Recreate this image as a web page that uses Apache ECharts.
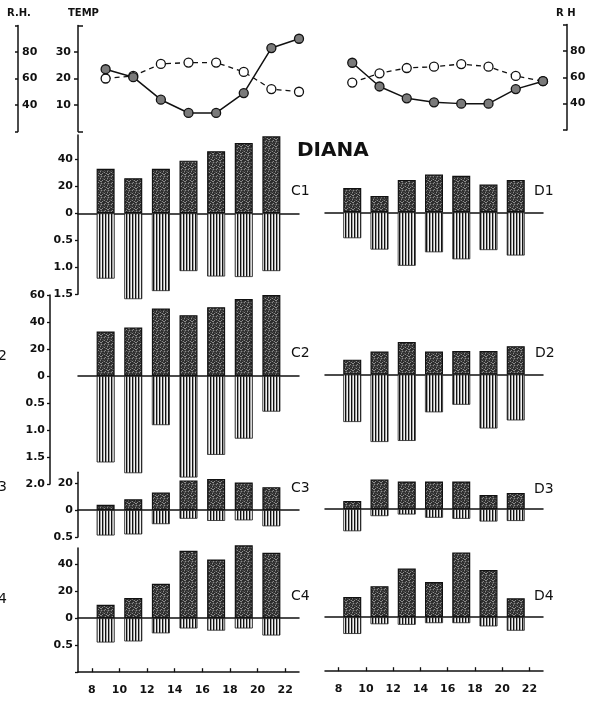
<!DOCTYPE html>
<html>
<head>
<meta charset="utf-8">
<script src="https://cdn.jsdelivr.net/npm/echarts@6/dist/echarts.min.js"></script>
<style>html,body{margin:0;padding:0;background:#fff}#main{width:598px;height:704px}</style>
</head>
<body>
<div id="main"></div>
<script>
// hours of the day
var barHours = [9, 11, 13, 15, 17, 19, 21];
var climateHours = [9, 11, 13, 15, 17, 19, 21, 23];
var hourTicks = [8, 10, 12, 14, 16, 18, 20, 22];

// top panels: relative humidity (solid, filled) and temperature (dashed, open)
var rhC = [67, 61, 44, 34, 34, 49, 83, 90];
var tempC = [20, 21, 25.5, 26, 26, 22.5, 16, 15];
var rhD = [71, 53, 44, 41, 40, 40, 51, 57];
var tempD = [18, 21.5, 23.5, 24, 25, 24, 20.5, 18.5];

// bars: count above the line, second measure below the line
var c1Up = [33, 26, 33, 39, 46, 52, 57];
var c1Down = [1.21, 1.59, 1.44, 1.07, 1.17, 1.18, 1.07];
var c2Up = [33, 36, 50, 45, 51, 57, 60];
var c2Down = [1.6, 1.8, 0.91, 1.88, 1.46, 1.16, 0.66];
var c3Up = [4, 8, 13, 22, 23, 20.5, 17];
var c3Down = [0.47, 0.45, 0.26, 0.16, 0.2, 0.19, 0.3];
var c4Up = [10, 15, 25.5, 50, 43.5, 54, 48.5];
var c4Down = [0.45, 0.43, 0.28, 0.19, 0.23, 0.19, 0.32];

var d1Up = [18, 12, 24, 28, 27, 20.5, 24];
var d1Down = [0.48, 0.69, 0.99, 0.74, 0.87, 0.7, 0.8];
var d2Up = [11, 17, 24, 17, 17.5, 17.5, 21];
var d2Down = [0.88, 1.25, 1.23, 0.7, 0.56, 1.0, 0.85];
var d3Up = [6, 22, 20.5, 20.5, 20.5, 10.5, 12];
var d3Down = [0.41, 0.13, 0.1, 0.16, 0.18, 0.23, 0.22];
var d4Up = [15, 23, 36, 26, 48, 35, 14];
var d4Down = [0.31, 0.13, 0.14, 0.11, 0.11, 0.17, 0.25];

// 0.5 below the line takes the same height as 20 above it
var DOWN_SCALE = 40;

var myChart = echarts.init(document.getElementById('main'));

// small fill textures for the bars (stipple above, vertical hatching below)
function texture(w, h, colorAt) {
    var c = document.createElement('canvas');
    c.width = w; c.height = h;
    var ctx = c.getContext('2d');
    for (var y = 0; y < h; y++) {
        for (var x = 0; x < w; x++) {
            ctx.fillStyle = colorAt(x, y);
            ctx.fillRect(x, y, 1, 1);
        }
    }
    return {image: c, repeat: 'repeat'};
}
var stipple = texture(7, 7, function (x, y) {
    var k = (x * 5 + y * 3 + (x * y) % 4) % 7;
    return k === 0 ? '#8c8c8c' : (k < 3 ? '#4a4a4a' : '#2c2c2c');
});
var hatch = texture(3, 1, function (x) {
    return ['#111', '#a0a0a0', '#f2f2f2'][x];
});

var FONT = 'DejaVu Sans';
var lineBlack = {show: true, lineStyle: {color: '#111', width: 1.5}};
var labelStyle = {color: '#111', fontFamily: FONT, fontWeight: 'bold', fontSize: 11};

var grids = [], xAxes = [], yAxes = [], series = [];

function addGrid(left, top, width, height) {
    grids.push({left: left, top: top, width: width, height: height, containLabel: false, outerBoundsMode: 'none'});
    return grids.length - 1;
}

// ---- top climate panels
var topPanels = [
    {rh: rhC, temp: tempC, left: 78, top: 25.5, width: 221, height: 106, side: 'left'},
    {rh: rhD, temp: tempD, left: 325, top: 24.5, width: 218, height: 105.5, side: 'right'}
];
topPanels.forEach(function (p) {
    var g = addGrid(p.left, p.top, p.width, p.height);
    xAxes.push({gridIndex: g, type: 'value', min: 7, max: 23, show: false});
    var xi = xAxes.length - 1;
    var tempIdx, rhIdx;
    if (p.side === 'left') {
        yAxes.push({gridIndex: g, type: 'value', min: 0, max: 40, position: 'left',
            axisLine: lineBlack, splitLine: {show: false},
            axisTick: {show: true, length: 4, customValues: [10, 20, 30], lineStyle: {color: '#111', width: 1.5}},
            axisLabel: Object.assign({customValues: [10, 20, 30], margin: 7}, labelStyle)});
        tempIdx = yAxes.length - 1;
        // bracket ends of the temperature axis
        yAxes.push({gridIndex: g, type: 'value', min: 0, max: 40, position: 'left',
            axisLine: {show: false}, splitLine: {show: false}, axisLabel: {show: false},
            axisTick: {show: true, inside: true, length: 5, customValues: [0, 40], lineStyle: {color: '#111', width: 1.5}}});
        yAxes.push({gridIndex: g, type: 'value', min: 20, max: 100, position: 'left', offset: 60,
            axisLine: lineBlack, splitLine: {show: false},
            axisTick: {show: true, length: 3, customValues: [20, 40, 60, 80, 100], lineStyle: {color: '#111', width: 1.5}},
            axisLabel: Object.assign({inside: true, margin: 4, customValues: [40, 60, 80]}, labelStyle)});
        rhIdx = yAxes.length - 1;
    } else {
        yAxes.push({gridIndex: g, type: 'value', min: 0, max: 40, show: false});
        tempIdx = yAxes.length - 1;
        yAxes.push({gridIndex: g, type: 'value', min: 20, max: 100, position: 'right', offset: 24,
            axisLine: lineBlack, splitLine: {show: false},
            axisTick: {show: true, inside: true, length: 4, customValues: [20, 40, 60, 80, 100], lineStyle: {color: '#111', width: 1.5}},
            axisLabel: Object.assign({margin: 3, customValues: [40, 60, 80]}, labelStyle)});
        rhIdx = yAxes.length - 1;
    }
    series.push({
        type: 'line', xAxisIndex: xi, yAxisIndex: tempIdx,
        data: climateHours.map(function (h, i) { return [h, p.temp[i]]; }),
        symbol: 'circle', symbolSize: 9,
        lineStyle: {color: '#111', width: 1.3, type: [5, 4]},
        itemStyle: {color: '#fff', borderColor: '#111', borderWidth: 1.3},
        z: 3
    });
    series.push({
        type: 'line', xAxisIndex: xi, yAxisIndex: rhIdx,
        data: climateHours.map(function (h, i) { return [h, p.rh[i]]; }),
        symbol: 'circle', symbolSize: 9,
        lineStyle: {color: '#111', width: 1.5},
        itemStyle: {color: '#7a7a7a', borderColor: '#111', borderWidth: 1.3},
        z: 4
    });
});

// ---- bar panels
var barPanels = [
    {up: c1Up, down: c1Down, min: -60, max: 58},
    {up: c2Up, down: c2Down, min: -80, max: 60},
    {up: c3Up, down: c3Down, min: -20, max: 28},
    {up: c4Up, down: c4Down, min: -40, max: 52},
    {up: d1Up, down: d1Down, min: -60, max: 58},
    {up: d2Up, down: d2Down, min: -80, max: 60},
    {up: d3Up, down: d3Down, min: -20, max: 28},
    {up: d4Up, down: d4Down, min: -40, max: 52}
];
var barLayout = [
    {left: 78, top: 135, width: 221, axisOffset: 0, showAxis: true, bottomAxis: false},
    {left: 78, top: 295, width: 221, axisOffset: 28, showAxis: true, bottomAxis: false},
    {left: 78, top: 472.3, width: 221, axisOffset: 0, showAxis: true, bottomAxis: false},
    {left: 78, top: 548, width: 221, axisOffset: 0, showAxis: true, bottomAxis: true, hideMinLabel: true},
    {left: 325, top: 134, width: 218, showAxis: false, bottomAxis: false},
    {left: 325, top: 293.5, width: 218, showAxis: false, bottomAxis: false},
    {left: 325, top: 471.3, width: 218, showAxis: false, bottomAxis: false},
    {left: 325, top: 547, width: 218, showAxis: false, bottomAxis: true}
];
var PX_PER_UNIT = 1.35;

function yLabel(v) {
    if (v > 0) return String(v);
    if (v === 0) return '0';
    return (-v / DOWN_SCALE).toFixed(1);
}

barPanels.forEach(function (p, k) {
    var L = barLayout[k];
    var g = addGrid(L.left, L.top, L.width, (p.max - p.min) * PX_PER_UNIT);
    xAxes.push({gridIndex: g, type: 'value', min: 7, max: 23, position: 'bottom',
        axisLine: {show: true, onZero: true, lineStyle: {color: '#111', width: 1.5}},
        axisTick: {show: false}, axisLabel: {show: false}, splitLine: {show: false}});
    var xi = xAxes.length - 1;
    if (L.bottomAxis) {
        xAxes.push({gridIndex: g, type: 'value', min: 7, max: 23, position: 'bottom',
            axisLine: {show: true, onZero: false, lineStyle: {color: '#111', width: 1.5}},
            axisTick: {show: true, inside: true, length: 4, customValues: hourTicks, lineStyle: {color: '#111', width: 1.3}},
            axisLabel: Object.assign({customValues: hourTicks, margin: 12}, labelStyle),
            splitLine: {show: false}});
    }
    var ticks = [];
    for (var v = p.min; v <= p.max; v += 20) ticks.push(v);
    var labels = L.hideMinLabel ? ticks.slice(1) : ticks;
    yAxes.push({gridIndex: g, type: 'value', min: p.min, max: p.max, interval: 20,
        show: L.showAxis, position: 'left', offset: L.axisOffset || 0,
        axisLine: lineBlack, splitLine: {show: false},
        axisTick: {show: true, length: 3, customValues: ticks, lineStyle: {color: '#111', width: 1.3}},
        axisLabel: Object.assign({customValues: labels, margin: 5, formatter: yLabel}, labelStyle)});
    var yi = yAxes.length - 1;
    series.push({
        type: 'bar', xAxisIndex: xi, yAxisIndex: yi, stack: 'b' + k, barWidth: 18, clip: false,
        data: barHours.map(function (h, i) { return [h, p.up[i]]; }),
        itemStyle: {color: stipple, borderColor: '#111', borderWidth: 1.2}
    });
    series.push({
        type: 'bar', xAxisIndex: xi, yAxisIndex: yi, stack: 'b' + k, barWidth: 18, clip: false,
        data: barHours.map(function (h, i) { return [h, -p.down[i] * DOWN_SCALE]; }),
        itemStyle: {color: hatch, borderColor: '#222', borderWidth: 0.8}
    });
});

function txt(x, y, s, size, weight) {
    return {type: 'text', left: x, top: y, z: 10,
        style: {text: s, fill: '#111', font: (weight || 'normal') + ' ' + size + 'px ' + FONT}};
}

var option = {
    animation: false,
    backgroundColor: '#fff',
    grid: grids,
    xAxis: xAxes,
    yAxis: yAxes,
    series: series,
    graphic: [
        txt(7, 8, 'R.H.', 10, 'bold'),
        txt(68, 8, 'TEMP', 10, 'bold'),
        txt(556, 8, 'R H', 10, 'bold'),
        txt(297, 141, 'DIANA', 20, 'bold'),
        txt(291, 184, 'C1', 14), txt(534, 184, 'D1', 14),
        txt(291, 346, 'C2', 14), txt(535, 346, 'D2', 14),
        txt(291, 481, 'C3', 14), txt(534, 482, 'D3', 14),
        txt(291, 589, 'C4', 14), txt(534, 589, 'D4', 14),
        txt(-2, 349, '2', 14), txt(-2, 480, '3', 14), txt(-2, 592, '4', 14)
    ]
};

myChart.setOption(option);
</script>
</body>
</html>
